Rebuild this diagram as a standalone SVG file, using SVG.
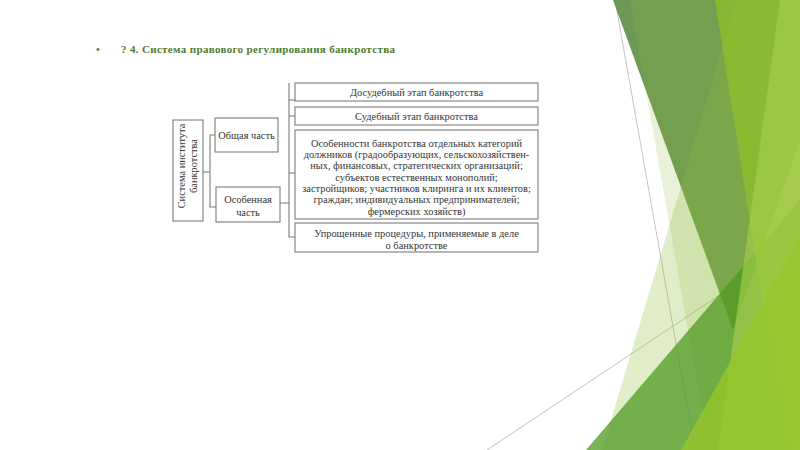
<svg xmlns="http://www.w3.org/2000/svg" width="800" height="450" viewBox="0 0 800 450">
<style>
.t{font-family:"Liberation Serif","Times New Roman",serif;font-size:10.4px;fill:#363636;text-anchor:middle}
.box{fill:#ffffff;stroke:#7c7c7c;stroke-width:1.1}
.con{fill:none;stroke:#7c7c7c;stroke-width:1.1}
.title{font-family:"Liberation Serif","Times New Roman",serif;font-size:11px;font-weight:bold;fill:#4e7d2e}
.gl{stroke:#c4c4c4;stroke-width:1;fill:none}
</style>
<rect width="800" height="450" fill="#ffffff"/>
<g id="decor">
<line class="gl" x1="615" y1="0" x2="695" y2="450"/>
<line class="gl" x1="487" y1="450" x2="800" y2="241.6"/>
<polygon points="613,0 850,0 733,330" fill="#679450" opacity="0.96"/>
<polygon points="737,0 800,0 800,450 602,450" fill="#8fc03a" opacity="0.28"/>
<polygon points="630,0 800,0 800,450 709,450" fill="#8fc03a" opacity="0.2"/>
<polygon points="586,450 800,200 800,450" fill="#4f9a22" opacity="0.75"/>
<polygon points="715,0 800,0 800,450 786,450" fill="#90c226" opacity="0.7"/>
<polygon points="780,0 800,0 800,450 718,450" fill="#a6ce49" opacity="0.65"/>
<polygon points="681,450 800,236 800,450" fill="#96c62c" opacity="0.8"/>
</g>
<g id="title">
<text class="title" x="96" y="53">•</text>
<text class="title" x="121" y="53" textLength="274" lengthAdjust="spacing">? 4. Система правового регулирования банкротства</text>
</g>
<g id="connectors">
<polyline class="con" points="203,172 210,172"/>
<polyline class="con" points="215,135 210,135 210,207 216,207"/>
<polyline class="con" points="289,83 289,237 295,237"/>
<line class="con" x1="289" y1="100" x2="295" y2="100"/>
<line class="con" x1="289" y1="116" x2="295" y2="116"/>
<line class="con" x1="289" y1="173" x2="295" y2="173"/>
<line class="con" x1="280" y1="203" x2="289" y2="203"/>
</g>
<g id="root">
<rect class="box" x="173" y="120" width="30" height="101"/>
<text class="t" transform="translate(185,166) rotate(-90)">Система института</text>
<text class="t" transform="translate(197,166) rotate(-90)">банкротства</text>
</g>
<g id="general">
<rect class="box" x="215" y="118" width="63" height="34"/>
<text class="t" x="246.5" y="138.5">Общая часть</text>
</g>
<g id="special">
<rect class="box" x="216" y="187" width="64" height="35"/>
<text class="t" x="248" y="202.5">Особенная</text>
<text class="t" x="248" y="215.5">часть</text>
</g>
<g id="pretrial">
<rect class="box" x="295" y="83" width="243" height="18"/>
<text class="t" x="416.5" y="95.5">Досудебный этап банкротства</text>
</g>
<g id="judicial">
<rect class="box" x="295" y="107" width="243" height="18"/>
<text class="t" x="416.5" y="119.5">Судебный этап банкротства</text>
</g>
<g id="categories">
<rect class="box" x="295" y="130" width="243" height="89"/>
<text class="t" x="416.5" y="146.5">Особенности банкротства отдельных категорий</text>
<text class="t" x="416.5" y="157.8">должников (градообразующих, сельскохозяйствен-</text>
<text class="t" x="416.5" y="169.1">ных, финансовых, стратегических организаций;</text>
<text class="t" x="416.5" y="180.5">субъектов естественных монополий;</text>
<text class="t" x="416.5" y="191.8">застройщиков; участников клиринга и их клиентов;</text>
<text class="t" x="416.5" y="203.1">граждан; индивидуальных предпринимателей;</text>
<text class="t" x="416.5" y="214.5">фермерских хозяйств)</text>
</g>
<g id="simplified">
<rect class="box" x="295" y="223" width="243" height="29"/>
<text class="t" x="416.5" y="236.5">Упрощенные процедуры, применяемые в деле</text>
<text class="t" x="416.5" y="248.5">о банкротстве</text>
</g>
</svg>
